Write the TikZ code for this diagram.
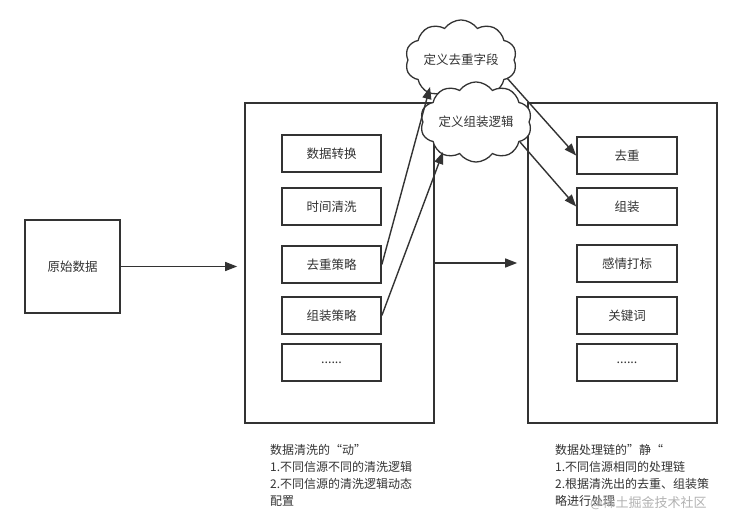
\documentclass[tikz,border=0pt]{standalone}
\usepackage{fontspec}
\setmainfont{Noto Sans CJK SC}
\usetikzlibrary{arrows.meta,shapes.symbols}
\definecolor{ln}{HTML}{333333}
\begin{document}
\begin{tikzpicture}[x=1pt,y=-1pt,
  box/.style={draw=ln,line width=1.7pt,fill=white,inner sep=0pt,font=\fontsize{12.5}{14}\selectfont,text=ln},
  cl/.style={cloud,cloud puffs=10,cloud puff arc=110,aspect=1.6,draw=ln,line width=1.3pt,fill=white,inner sep=0pt,font=\fontsize{12.5}{14}\selectfont,text=ln},
  arr/.style={draw=ln,line width=1.4pt,-{Triangle[length=12pt,width=9pt]}},
  note/.style={anchor=north west,align=left,inner sep=0pt,font=\fontsize{12}{17}\selectfont,text=ln}]
\useasboundingbox (0,0) rectangle (752,529);
\fill[white] (0,0) rectangle (752,529);
% source
\node[box,minimum width=95pt,minimum height=93pt] (src) at (72.5,266.5) {原始数据};
% left big box
\node[box,minimum width=189pt,minimum height=320pt] (L) at (339.5,263) {};
\node[box,minimum width=99pt,minimum height=37pt] (a1) at (331.5,153.5) {数据转换};
\node[box,minimum width=99pt,minimum height=37pt] (a2) at (331.5,206.5) {时间清洗};
\node[box,minimum width=99pt,minimum height=37pt] (a3) at (331.5,264.5) {去重策略};
\node[box,minimum width=99pt,minimum height=37pt] (a4) at (331.5,315.5) {组装策略};
\node[box,minimum width=99pt,minimum height=37pt] (a5) at (331.5,362.5) {......};
% right big box
\node[box,minimum width=189pt,minimum height=320pt] (R) at (622.5,263) {};
\node[box,minimum width=100pt,minimum height=37pt] (b1) at (627,155.5) {去重};
\node[box,minimum width=100pt,minimum height=37pt] (b2) at (627,206.5) {组装};
\node[box,minimum width=100pt,minimum height=37pt] (b3) at (627,263.5) {感情打标};
\node[box,minimum width=100pt,minimum height=37pt] (b4) at (627,315.5) {关键词};
\node[box,minimum width=100pt,minimum height=37pt] (b5) at (627,362.5) {......};
% clouds
\node[cl,minimum width=98pt,minimum height=58pt] (c1) at (461,60) {定义去重字段};
\node[cl,minimum width=94pt,minimum height=60pt] (c2) at (476,122) {定义组装逻辑};
\coordinate (t1) at (430,87);
\coordinate (t2) at (443,152);
\coordinate (s1) at (507,78);
\coordinate (s2) at (520,142);
% connectors
\draw[arr,shorten >=7pt] (src.east) -- (src.east -| L.west);
\draw[arr,shorten >=10pt] (L.east) -- (R.west);
\draw[arr] (a3.east) -- (t1);
\draw[arr] (a4.east) -- (t2);
\draw[arr] (s1) -- (b1.west);
\draw[arr] (s2) -- (b2.west);
% notes
\node[note] (n1) at (270,444) {数据清洗的“动”\\1.不同信源不同的清洗逻辑\\2.不同信源的清洗逻辑动态\\配置};
\node[note] (n2) at (555,444) {数据处理链的”静“\\1.不同信源相同的处理链\\2.根据清洗出的去重、组装策\\略进行处理};
\node[anchor=west,inner sep=0pt,font=\fontsize{13}{15}\selectfont,text=black!30] (wm) at (590,503) {@稀土掘金技术社区};
\end{tikzpicture}
\end{document}
